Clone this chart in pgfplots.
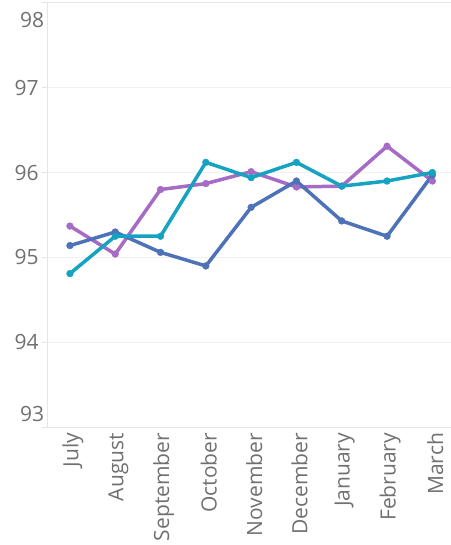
\documentclass[border=0pt]{standalone}
\usepackage{fontspec}
\setmainfont{Open Sans}
\usepackage{pgfplots}
\pgfplotsset{compat=1.18}
\definecolor{cblue}{HTML}{4E72B8}
\definecolor{cpurple}{HTML}{A66BC4}
\definecolor{cteal}{HTML}{16A3C2}
\definecolor{gridc}{HTML}{F0F0F0}
\definecolor{axc}{HTML}{E6E6E6}
\definecolor{txt}{HTML}{707070}
\begin{document}
\begin{tikzpicture}
\useasboundingbox (-47.3pt,-117.7pt) rectangle (402.7pt,427.3pt);
\begin{axis}[
  scale only axis,
  width=404.7pt, height=424.6pt,
  xmin=-0.5, xmax=8.434,
  ymin=93, ymax=98,
  axis line style={axc, line width=0.8pt},
  tick style={axc, line width=0.8pt},
  tick align=outside,
  major tick length=5.5pt,
  xtick={0,...,8},
  xticklabels={July,August,September,October,November,December,January,February,March},
  x tick style={draw=none},
  extra x ticks={-0.5,0.5,1.5,2.5,3.5,4.5,5.5,6.5,7.5},
  extra x tick labels={},
  extra x tick style={tick style={axc, line width=0.8pt}, major tick length=6pt, grid=none},
  ytick={93,94,95,96,97,98},
  yticklabels={,94,95,96,97,},
  extra y ticks={93.16,97.80},
  extra y tick labels={93,98},
  extra y tick style={major tick length=0pt, tick style={draw=none}, grid=none},
  ymajorgrids,
  grid style={gridc, line width=0.8pt},
  /pgf/number format/assume math mode=true,
  ticklabel style={font=\fontsize{21}{25}\selectfont, text=txt},
  xticklabel style={rotate=90, anchor=east, inner sep=0pt, yshift=-3pt},
  yticklabel style={inner sep=0pt, xshift=-3pt},
  every axis plot/.append style={line width=3.5pt, mark=*, mark size=3.4pt, mark options={solid, line width=0.4pt}},
]
\addplot[color=cpurple] coordinates {(0,95.37) (1,95.04) (2,95.80) (3,95.87) (4,96.01) (5,95.83) (6,95.84) (7,96.31) (8,95.90)};
\addplot[color=cblue] coordinates {(0,95.14) (1,95.30) (2,95.06) (3,94.90) (4,95.59) (5,95.90) (6,95.43) (7,95.25) (8,95.97)};
\addplot[color=cteal] coordinates {(0,94.81) (1,95.25) (2,95.25) (3,96.12) (4,95.94) (5,96.12) (6,95.84) (7,95.90) (8,96.00)};
\end{axis}
\end{tikzpicture}
\end{document}
